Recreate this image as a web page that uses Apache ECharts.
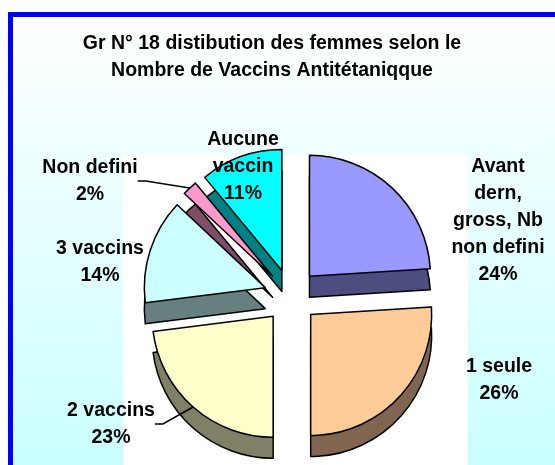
<!DOCTYPE html>
<html>
<head>
<meta charset="utf-8">
<script src="https://cdn.jsdelivr.net/npm/echarts@6/dist/echarts.min.js"></script>
<style>
  html, body { margin: 0; padding: 0; background: #fff; }
  #chart { width: 555px; height: 465px; }
</style>
</head>
<body>
<div id="chart"></div>
<script>
// categories and values
const categories = [
    "Avant\ndern,\ngross, Nb\nnon defini",
    "1 seule",
    "2 vaccins",
    "3 vaccins",
    "Non defini",
    "Aucune\nvaccin"
];
const values = [24, 26, 23, 14, 2, 11];

const topColors  = ["#9999ff", "#ffcc99", "#ffffcc", "#ccffff", "#ff99cc", "#00ffff"];
const sideColors = ["#4d4d80", "#806650", "#808066", "#668080", "#804d66", "#008080"];

// where each label sits (text centre)
const labelPos = [[498, 221], [499, 380], [111, 424], [100, 262], [90, 181], [243, 167]];
const withLine = [false, false, true, false, true, false];

const cx = 291, cy = 296, r = 121, depth = 21, offset = 27;

const chart = echarts.init(document.getElementById("chart"));

const font = {
    fontFamily: "Liberation Sans, Arial, sans-serif",
    fontWeight: "bold",
    fontSize: 19.5,
    color: "#000"
};

// one pie layer; exploded layers are drawn with every slice selected
function layer(opts) {
    return Object.assign({
        type: "pie",
        radius: [0, r],
        startAngle: 90,
        clockwise: true,
        selectedMode: "multiple",
        selectedOffset: offset,
        avoidLabelOverlap: false,
        percentPrecision: 0,
        emphasis: { disabled: true },
        label: { show: false },
        labelLine: { show: false },
        itemStyle: { borderColor: "#000", borderWidth: 1.5 }
    }, opts);
}

chart.setOption({
    animation: false,
    backgroundColor: "#fff",
    title: {
        text: "Gr N° 18 distibution des femmes selon le\nNombre de Vaccins Antitétaniqque",
        left: 272,
        top: 30,
        textAlign: "center",
        padding: 0,
        textStyle: Object.assign({ lineHeight: 27 }, font)
    },
    graphic: [
        {
            type: "rect",
            z: -10,
            shape: { x: 10.5, y: 14.5, width: 560, height: 470 },
            style: {
                fill: new echarts.graphic.LinearGradient(0, 0, 0, 1, [
                    { offset: 0, color: "#ffffff" },
                    { offset: 1, color: "#c8ffff" }
                ]),
                stroke: "#0000ff",
                lineWidth: 5
            }
        },
        {
            type: "rect",
            z: -9,
            shape: { x: 123, y: 155, width: 345, height: 320 },
            style: { fill: "#ffffff" }
        }
    ],
    series: [
        // side walls: the same exploded pie pushed down
        layer({
            silent: true,
            z: 1,
            center: [cx, cy + depth],
            data: values.map((v, i) => ({
                name: categories[i], value: v, selected: true,
                itemStyle: { color: sideColors[i] }
            }))
        }),
        // top faces
        layer({
            silent: true,
            z: 2,
            center: [cx, cy],
            data: values.map((v, i) => ({
                name: categories[i], value: v, selected: true,
                itemStyle: { color: topColors[i] }
            }))
        }),
        // invisible carrier for the labels; its rim sits on the exploded rims
        layer({
            silent: true,
            z: 3,
            selectedMode: false,
            center: [cx, cy],
            radius: [0, r + offset],
            itemStyle: { color: "transparent", borderWidth: 0 },
            label: Object.assign({
                show: true,
                position: "outside",
                formatter: "{b}\n{d}%",
                lineHeight: 27,
                align: "center"
            }, font),
            labelLine: {
                show: false,
                length: 6,
                length2: 8,
                lineStyle: { color: "#000", width: 1.5 }
            },
            labelLayout: function (p) {
                const pos = labelPos[p.dataIndex];
                return { x: pos[0], y: pos[1], align: "center", verticalAlign: "middle" };
            },
            data: values.map((v, i) => ({
                name: categories[i], value: v,
                labelLine: { show: withLine[i] }
            }))
        })
    ]
});
</script>
</body>
</html>
